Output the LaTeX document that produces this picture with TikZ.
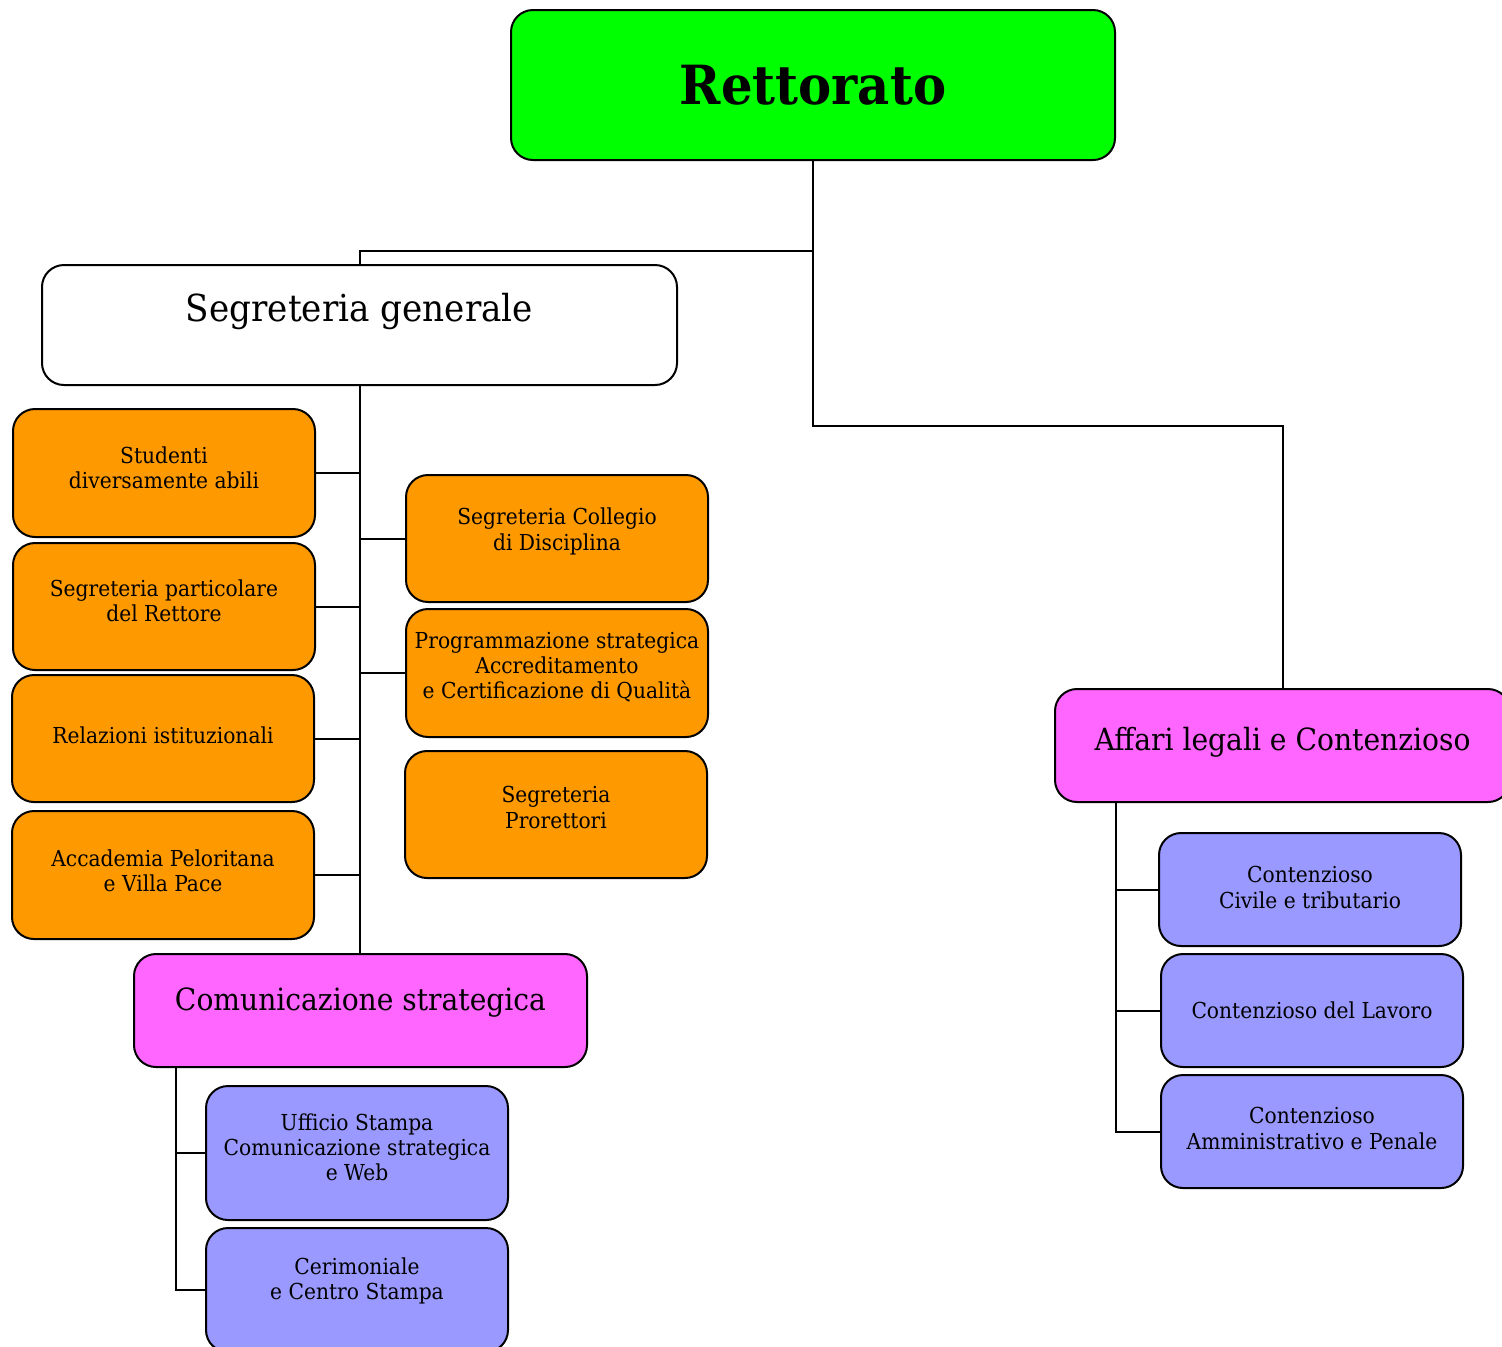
\documentclass[tikz,border=0pt]{standalone}
\usepackage{fontspec}
\setmainfont{DejaVu Serif}[FakeStretch=0.92]
\usetikzlibrary{calc}
\definecolor{cgreen}{HTML}{00FF00}
\definecolor{corange}{HTML}{FF9900}
\definecolor{cmag}{HTML}{FF66FF}
\definecolor{cblue}{HTML}{9999FF}
\tikzset{
  box/.style={draw=black, line width=1pt, rounded corners=11pt, inner sep=0pt},
  conn/.style={draw=black, line width=1pt},
  small/.style={align=center, font=\fontsize{11}{12.6}\selectfont, inner sep=0pt},
  mid/.style={align=center, font=\fontsize{15.3}{18}\selectfont, inner sep=0pt},
}
% name, x1, y1, x2, y2, fill, text style, dy(px), text
\newcommand\ubox[9]{%
  \node[box, fill=#6, minimum width={(#4-#2)*0.5}, minimum height={(#5-#3)*0.5}]
    (#1) at ({(#2+#4)/2},{(#3+#5)/2}) {};
  \node[#7, yshift={-(#8)*0.5pt}] (#1-t) at (#1.center) {#9};
}
\begin{document}
\begin{tikzpicture}[x=0.5pt, y=-0.5pt]
\useasboundingbox (0,0) rectangle (1502,1346);
\fill[white] (0,0) rectangle (1502,1346);
% top
\ubox{rett}{511}{10}{1115}{160}{cgreen}{font=\fontsize{27}{32}\bfseries}{0}{Rettorato}
\ubox{seg}{42}{265}{677}{385}{white}{mid,font=\fontsize{18.6}{22}\selectfont}{-14}{Segreteria generale}
% left orange column
\ubox{stud}{13}{409}{315}{537}{corange}{small}{-5}{Studenti\\diversamente abili}
\ubox{part}{13}{543}{315}{670}{corange}{small}{-6}{Segreteria particolare\\del Rettore}
\ubox{rel}{12}{675}{314}{802}{corange}{small}{-3}{Relazioni istituzionali}
\ubox{acc}{12}{811}{314}{939}{corange}{small}{-4}{Accademia Peloritana\\e Villa Pace}
% right orange column
\ubox{coll}{406}{475}{708}{602}{corange}{small}{-7}{Segreteria Collegio\\di Disciplina}
\ubox{prog}{406}{609}{708}{737}{corange}{small}{-6}{Programmazione strategica\\Accreditamento\\e Certificazione di Qualità}
\ubox{pror}{405}{751}{707}{878}{corange}{small}{-7}{Segreteria\\Prorettori}
% comunicazione
\ubox{com}{134}{954}{587}{1067}{cmag}{mid}{-8}{Comunicazione strategica}
\ubox{uff}{206}{1086}{508}{1220}{cblue}{small}{-6}{Ufficio Stampa\\Comunicazione strategica\\e Web}
\ubox{cer}{206}{1228}{508}{1352}{cblue}{small}{-9}{Cerimoniale\\e Centro Stampa}
% affari legali
\ubox{aff}{1055}{689}{1510}{802}{cmag}{mid}{-3}{Affari legali e Contenzioso}
\ubox{civ}{1159}{833}{1461}{946}{cblue}{small}{-2}{Contenzioso\\Civile e tributario}
\ubox{lav}{1161}{954}{1463}{1067}{cblue}{small}{0}{Contenzioso del Lavoro}
\ubox{amm}{1161}{1075}{1463}{1188}{cblue}{small}{-3}{Contenzioso\\Amministrativo e Penale}
% connectors
\coordinate (comx) at (176,0);
\coordinate (affx) at (1116,0);
\draw[conn] (rett.south) -- ++(0,90) -| (seg.north);
\draw[conn] (rett.south) -- ++(0,265) -| (aff.north);
\draw[conn] (seg.south) -- (seg.south |- com.north);
\foreach \n in {stud,part,rel,acc} \draw[conn] (\n.east) -- (\n.east -| seg.south);
\foreach \n in {coll,prog} \draw[conn] (\n.west) -- (\n.west -| seg.south);
\draw[conn] (comx |- com.south) |- (cer.west);
\draw[conn] (uff.west) -- (uff.west -| comx);
\draw[conn] (affx |- aff.south) |- (amm.west);
\foreach \n in {civ,lav} \draw[conn] (\n.west) -- (\n.west -| affx);
\end{tikzpicture}
\end{document}
